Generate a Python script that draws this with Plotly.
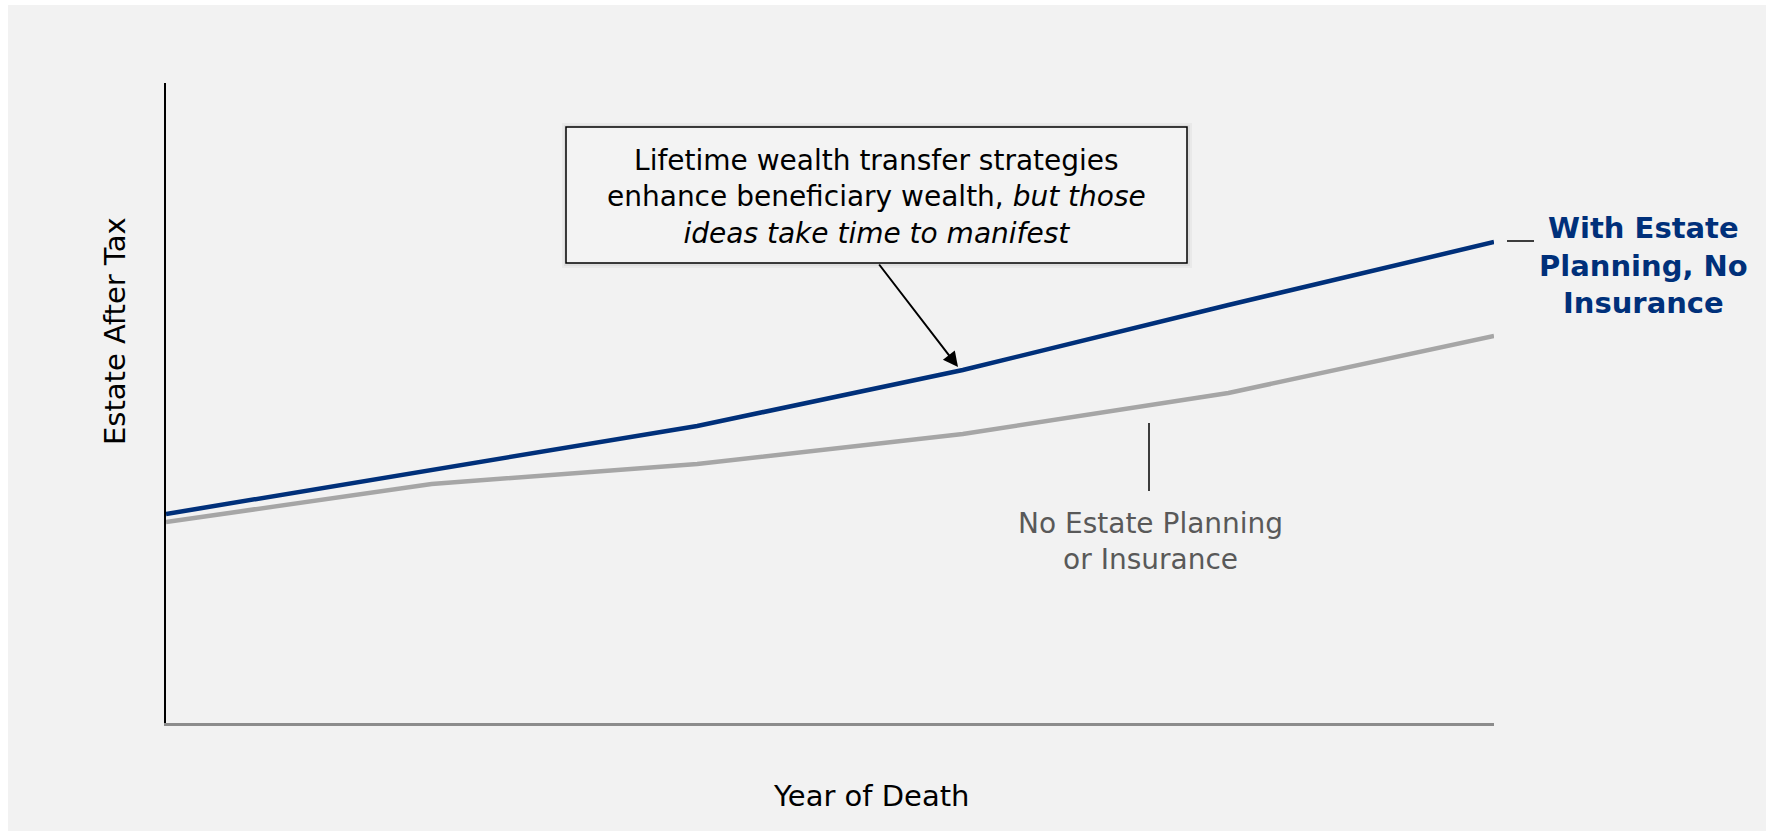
import plotly.graph_objects as go

# ---- data (arbitrary units) ----
death_year_index = [0, 1, 2, 3, 4, 5]
with_planning = [209, 253, 297, 353, 418, 481]
no_planning = [201, 239, 259, 289, 330, 387]
y_range = [0, 640]

W, H = 1769, 836
L, R, T, B = 166, 1494, 83, 723  # plot area in pixels

def px(x):
    return (x - L) / (R - L)

def py(y):
    return (B - y) / (B - T)

FONT = "DejaVu Sans, Verdana, sans-serif"
NAVY = "#00307a"
GRAY = "#a6a6a6"

fig = go.Figure()
fig.add_trace(go.Scatter(x=death_year_index, y=no_planning, mode="lines",
                         line=dict(color=GRAY, width=4.5), name="No Estate Planning or Insurance"))
fig.add_trace(go.Scatter(x=death_year_index, y=with_planning, mode="lines",
                         line=dict(color=NAVY, width=4.5), name="With Estate Planning, No Insurance"))

shapes = [
    # gray page background
    dict(type="rect", xref="paper", yref="paper", x0=px(8), x1=px(1766), y0=py(831), y1=py(5),
         fillcolor="#f2f2f2", line=dict(width=0), layer="below"),
    # box shadow
    dict(type="rect", xref="paper", yref="paper", x0=px(562), x1=px(1192), y0=py(268), y1=py(123),
         fillcolor="rgba(0,0,0,0.035)", line=dict(width=0)),
    dict(type="rect", xref="paper", yref="paper", x0=px(564), x1=px(1190), y0=py(266), y1=py(125),
         fillcolor="rgba(0,0,0,0.045)", line=dict(width=0)),
    # callout box
    dict(type="rect", xref="paper", yref="paper", x0=px(566), x1=px(1187), y0=py(263), y1=py(127),
         fillcolor="#f3f3f3", line=dict(color="#000000", width=1.5)),
    # leader lines
    dict(type="line", xref="paper", yref="paper", x0=px(1507), x1=px(1534), y0=py(241), y1=py(241),
         line=dict(color="#000000", width=1.5)),
    dict(type="line", xref="paper", yref="paper", x0=px(1149), x1=px(1149), y0=py(423), y1=py(491),
         line=dict(color="#000000", width=1.5)),
]

annotations = [
    dict(xref="paper", yref="paper", x=px(876), y=py(197), xanchor="center", yanchor="middle",
         text="Lifetime wealth transfer strategies<br>enhance beneficiary wealth, <i>but those</i><br><i>ideas take time to manifest</i>",
         showarrow=False, font=dict(family=FONT, size=28, color="#000000"), align="center"),
    dict(xref="paper", yref="paper", x=px(958), y=py(367), text="", showarrow=True,
         axref="pixel", ayref="pixel", ax=-80, ay=-104,
         arrowhead=2, arrowsize=1.5, arrowwidth=2, arrowcolor="#000000"),
    dict(xref="paper", yref="paper", x=px(1643), y=py(265), xanchor="center", yanchor="middle",
         text="<b>With Estate<br>Planning, No<br>Insurance</b>", showarrow=False,
         font=dict(family=FONT, size=29, color=NAVY), align="center"),
    dict(xref="paper", yref="paper", x=px(1150), y=py(541), xanchor="center", yanchor="middle",
         text="No Estate Planning<br>or Insurance", showarrow=False,
         font=dict(family=FONT, size=28, color="#595959"), align="center"),
    dict(xref="paper", yref="paper", x=px(115), y=py(331), xanchor="center", yanchor="middle",
         text="Estate After Tax", textangle=-90, showarrow=False,
         font=dict(family=FONT, size=29, color="#000000")),
    dict(xref="paper", yref="paper", x=px(871), y=py(796), xanchor="center", yanchor="middle",
         text="Year of Death", showarrow=False,
         font=dict(family=FONT, size=29, color="#000000")),
]

fig.update_layout(
    width=W, height=H,
    margin=dict(l=L, r=W - R, t=T, b=H - B, pad=0),
    paper_bgcolor="#ffffff",
    plot_bgcolor="rgba(0,0,0,0)",
    showlegend=False,
    hovermode=False,
    shapes=shapes,
    annotations=annotations,
    xaxis=dict(range=[0, 5], showgrid=False, zeroline=False, showticklabels=False, ticks="",
               showline=True, linecolor="#8c8c8c", linewidth=2.5),
    yaxis=dict(range=y_range, showgrid=False, zeroline=False, showticklabels=False, ticks="",
               showline=True, linecolor="#000000", linewidth=1.5),
)

fig.write_html("out.html", config={"displayModeBar": False},
               post_script="document.body.style.margin='0';document.body.style.padding='0';")
